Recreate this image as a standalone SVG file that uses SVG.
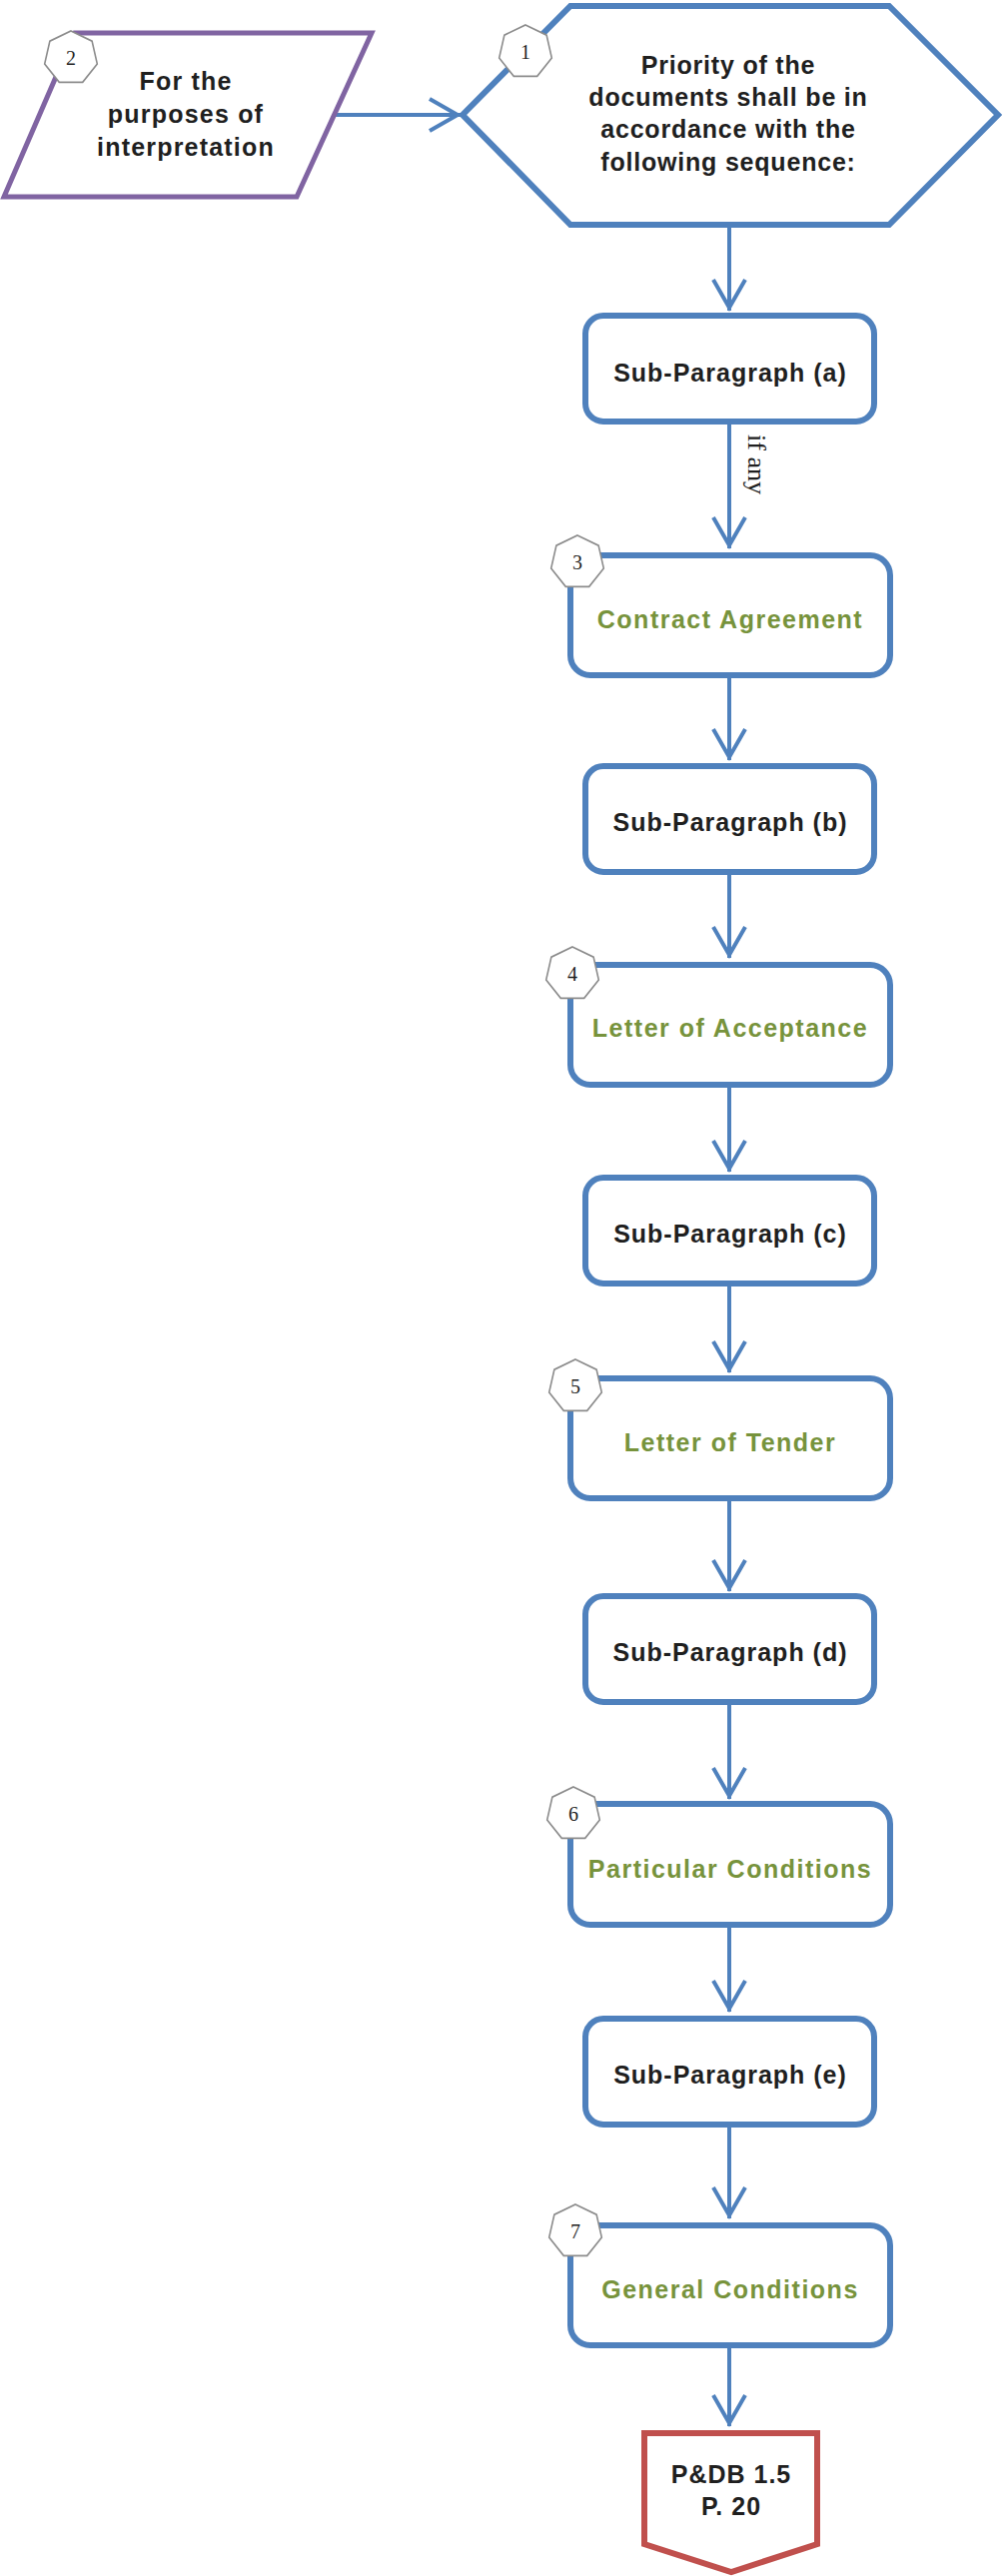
<svg xmlns="http://www.w3.org/2000/svg" xmlns:xlink="http://www.w3.org/1999/xlink" width="1004" height="2579" viewBox="0 0 1004 2579">
<style>
.box{fill:#fff;stroke:#4F81BD;stroke-width:6}
.conn{fill:none;stroke:#4F81BD;stroke-width:4}
.lbl{font-family:"Liberation Sans",Arial,sans-serif;font-weight:bold;font-size:25px;text-anchor:middle;fill:#1f1f1f}
.sub{letter-spacing:1px}
.grn{fill:#77933C;letter-spacing:1.5px}
.badge{fill:#fff;stroke:#8c8c8c;stroke-width:1.6}
.num{font-family:"Liberation Serif","Times New Roman",serif;font-size:20px;text-anchor:middle;fill:#1f1f1f}
.note{font-family:"Liberation Serif","Times New Roman",serif;font-size:26px;fill:#1f1f1f}
</style>
<defs>
<polygon id="hept" points="0,-27 21.11,-16.83 26.32,6.01 11.72,24.33 -11.72,24.33 -26.32,6.01 -21.11,-16.83"/>
<marker id="arr" markerUnits="userSpaceOnUse" markerWidth="44" markerHeight="44" viewBox="-38 -22 44 44" refX="0" refY="0" orient="auto" overflow="visible">
<path d="M-31,-16 L-3,0 L-31,16" fill="none" stroke="#4F81BD" stroke-width="4"/>
</marker>
</defs>
<rect width="1004" height="2579" fill="#fff"/>

<g id="connectors">
<line class="conn" x1="334" y1="115" x2="461" y2="115" stroke-width="3" marker-end="url(#arr)"/>
<line class="conn" x1="730" y1="225" x2="730" y2="311" marker-end="url(#arr)"/>
<line class="conn" x1="730" y1="422" x2="730" y2="549" marker-end="url(#arr)"/>
<line class="conn" x1="730" y1="676" x2="730" y2="761" marker-end="url(#arr)"/>
<line class="conn" x1="730" y1="873" x2="730" y2="959" marker-end="url(#arr)"/>
<line class="conn" x1="730" y1="1086" x2="730" y2="1173" marker-end="url(#arr)"/>
<line class="conn" x1="730" y1="1285" x2="730" y2="1374" marker-end="url(#arr)"/>
<line class="conn" x1="730" y1="1500" x2="730" y2="1593" marker-end="url(#arr)"/>
<line class="conn" x1="730" y1="1704" x2="730" y2="1801" marker-end="url(#arr)"/>
<line class="conn" x1="730" y1="1927" x2="730" y2="2014" marker-end="url(#arr)"/>
<line class="conn" x1="730" y1="2127" x2="730" y2="2221" marker-end="url(#arr)"/>
<line class="conn" x1="730" y1="2348" x2="730" y2="2429" marker-end="url(#arr)"/>
<text class="note" transform="translate(749,435) rotate(90)">if any</text>
</g>

<g id="node-interpretation">
<polygon points="75,33 372,33 297,197 4,197" fill="#fff" stroke="#8064A2" stroke-width="5"/>
<text class="lbl" style="letter-spacing:1.2px" x="186" y="90">For the</text>
<text class="lbl" style="letter-spacing:1.2px" x="186" y="123">purposes of</text>
<text class="lbl" style="letter-spacing:1.2px" x="186" y="156">interpretation</text>
<use href="#hept" class="badge" x="71" y="58"/>
<text class="num" x="71" y="65">2</text>
</g>

<g id="node-priority">
<polygon class="box" points="571,6 890,6 999,115 890,225 571,225 463,115"/>
<text class="lbl" style="letter-spacing:0.8px" x="729" y="74">Priority of the</text>
<text class="lbl" style="letter-spacing:0.8px" x="729" y="106">documents shall be in</text>
<text class="lbl" style="letter-spacing:0.8px" x="729" y="138">accordance with the</text>
<text class="lbl" style="letter-spacing:0.8px" x="729" y="171">following sequence:</text>
<use href="#hept" class="badge" x="526" y="52"/>
<text class="num" x="526" y="59">1</text>
</g>

<g id="node-sub-a">
<rect class="box" x="586" y="316" width="289" height="106" rx="18"/>
<text class="lbl sub" x="731" y="382">Sub-Paragraph (a)</text>
</g>

<g id="node-contract-agreement">
<rect class="box" x="571" y="556" width="320" height="120" rx="20"/>
<text class="lbl grn" x="731" y="629">Contract Agreement</text>
<use href="#hept" class="badge" x="578" y="563"/>
<text class="num" x="578" y="570">3</text>
</g>

<g id="node-sub-b">
<rect class="box" x="586" y="767" width="289" height="106" rx="18"/>
<text class="lbl sub" x="731" y="832">Sub-Paragraph (b)</text>
</g>

<g id="node-letter-acceptance">
<rect class="box" x="571" y="966" width="320" height="120" rx="20"/>
<text class="lbl grn" x="731" y="1038">Letter of Acceptance</text>
<use href="#hept" class="badge" x="573" y="975"/>
<text class="num" x="573" y="982">4</text>
</g>

<g id="node-sub-c">
<rect class="box" x="586" y="1179" width="289" height="106" rx="18"/>
<text class="lbl sub" x="731" y="1244">Sub-Paragraph (c)</text>
</g>

<g id="node-letter-tender">
<rect class="box" x="571" y="1380" width="320" height="120" rx="20"/>
<text class="lbl grn" x="731" y="1453">Letter of Tender</text>
<use href="#hept" class="badge" x="576" y="1388"/>
<text class="num" x="576" y="1395">5</text>
</g>

<g id="node-sub-d">
<rect class="box" x="586" y="1598" width="289" height="106" rx="18"/>
<text class="lbl sub" x="731" y="1663">Sub-Paragraph (d)</text>
</g>

<g id="node-particular-conditions">
<rect class="box" x="571" y="1806" width="320" height="121" rx="20"/>
<text class="lbl grn" x="731" y="1880">Particular Conditions</text>
<use href="#hept" class="badge" x="574" y="1816"/>
<text class="num" x="574" y="1823">6</text>
</g>

<g id="node-sub-e">
<rect class="box" x="586" y="2021" width="289" height="106" rx="18"/>
<text class="lbl sub" x="731" y="2086">Sub-Paragraph (e)</text>
</g>

<g id="node-general-conditions">
<rect class="box" x="571" y="2228" width="320" height="120" rx="20"/>
<text class="lbl grn" x="731" y="2301">General Conditions</text>
<use href="#hept" class="badge" x="576" y="2234"/>
<text class="num" x="576" y="2241">7</text>
</g>

<g id="node-pdb">
<polygon points="645,2436 818,2436 818,2547 732,2575 645,2547" fill="#fff" stroke="#C0504D" stroke-width="6"/>
<text class="lbl sub" x="732" y="2486">P&amp;DB 1.5</text>
<text class="lbl sub" x="732" y="2518">P. 20</text>
</g>
</svg>
